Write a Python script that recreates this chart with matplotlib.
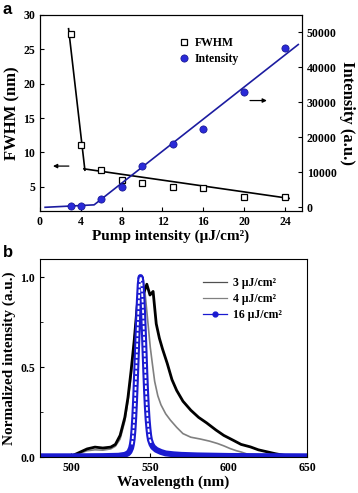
import numpy as np
import matplotlib
matplotlib.use('Agg')
import matplotlib.pyplot as plt
from matplotlib.lines import Line2D

plt.rcParams['font.family'] = 'serif'
plt.rcParams['font.serif'] = ['Liberation Serif', 'DejaVu Serif']
plt.rcParams['font.weight'] = 'bold'
plt.rcParams['axes.labelweight'] = 'bold'

# panel a: FWHM and integrated intensity vs pump
pump = [3, 4, 6, 8, 10, 13, 16, 20, 24]
fwhm = [27.3, 11.1, 7.5, 6.0, 5.5, 5.0, 4.8, 3.55, 3.55]
intensity = [400, 400, 2300, 5900, 11900, 18100, 22300, 32900, 45600]

# hand fitted segments
fwhm_fit1_x = [2.8, 4.4]
fwhm_fit1_y = [28.0, 7.4]
fwhm_fit2_x = [4.3, 24.4]
fwhm_fit2_y = [7.6, 3.3]
int_fit_x = [0.5, 5.3, 25.3]
int_fit_y = [0, 700, 46500]

# panel b: normalized spectra
wl_3 = [480, 495, 500, 505, 510, 515, 520, 525, 528, 531, 534, 536, 538, 540,
        542, 544, 546, 548, 550, 552, 554, 556, 558, 561, 564, 567, 571, 576,
        581, 586, 592, 597, 603, 608, 614, 619, 625, 630, 635, 640, 650]
sp_3 = [0.0, 0.0, 0.005, 0.025, 0.045, 0.055, 0.05, 0.055, 0.07, 0.12, 0.22,
        0.33, 0.48, 0.65, 0.85, 0.95, 0.91, 0.96, 0.90, 0.92, 0.74, 0.66, 0.60,
        0.52, 0.43, 0.37, 0.31, 0.26, 0.22, 0.19, 0.15, 0.12, 0.093, 0.07,
        0.056, 0.04, 0.028, 0.018, 0.01, 0.005, 0.0]

wl_4 = [480, 500, 505, 510, 515, 520, 525, 528, 531, 534, 536, 538, 540, 542,
        544, 545.5, 547, 549, 550.2, 551.5, 553, 555, 557, 560, 563, 567, 571,
        576, 582, 588, 593, 597, 601, 605, 608, 614, 620, 650]
sp_4 = [0.0, 0.005, 0.02, 0.035, 0.04, 0.038, 0.045, 0.06, 0.10, 0.20, 0.31,
        0.45, 0.65, 0.85, 0.97, 1.0, 0.90, 0.72, 0.61, 0.52, 0.42, 0.34, 0.29,
        0.24, 0.205, 0.165, 0.13, 0.11, 0.10, 0.088, 0.075, 0.062, 0.047,
        0.035, 0.028, 0.01, 0.003, 0.0]

wl_16 = [480, 500, 520, 530, 534, 536, 537, 538, 538.5, 539, 539.5, 540, 540.5,
         541, 541.5, 542, 542.5, 543, 543.5, 544, 544.5, 545, 545.5, 546,
         546.5, 547, 547.5, 548, 548.5, 549, 549.5, 550, 551, 552, 554, 557,
         560, 565, 570, 580, 600, 620, 650]
sp_16 = [0.004, 0.004, 0.005, 0.007, 0.012, 0.02, 0.03, 0.05, 0.07, 0.10, 0.15,
         0.22, 0.31, 0.42, 0.54, 0.66, 0.78, 0.88, 0.96, 1.0, 0.98, 0.92, 0.83,
         0.72, 0.60, 0.48, 0.37, 0.28, 0.21, 0.16, 0.12, 0.095, 0.07, 0.055,
         0.04, 0.028, 0.02, 0.015, 0.012, 0.009, 0.006, 0.005, 0.004]

blue = '#1a1ad0'
navy = '#1c1ca0'

fig = plt.figure(figsize=(3.58, 4.93), dpi=100)

# ---- panel a
ax1 = fig.add_axes([0.1117, 0.572, 0.732, 0.3976])
ax2 = ax1.twinx()
ax1.plot(fwhm_fit1_x, fwhm_fit1_y, color='black', lw=1.2)
ax1.plot(fwhm_fit2_x, fwhm_fit2_y, color='black', lw=1.2)
h1, = ax1.plot(pump, fwhm, 's', mfc='white', mec='black', ms=4.5, mew=0.9,
               label='FWHM')
ax2.plot(int_fit_x, int_fit_y, color=navy, lw=1.2)
h2, = ax2.plot(pump, intensity, 'o', color='#2a2ad8', mec='#12128a', ms=5.2,
               mew=0.5, label='Intensity')

ax1.set_xlim(0, 25.67)
ax1.set_ylim(1.46, 30)
ax2.set_ylim(-1057, 54940)
ax1.set_xticks([0, 4, 8, 12, 16, 20, 24])
ax1.set_yticks([5, 10, 15, 20, 25, 30])
ax2.set_yticks([0, 10000, 20000, 30000, 40000, 50000])
ax1.tick_params(direction='in', labelsize=8.5, length=3)
ax2.tick_params(direction='in', labelsize=8.5, length=3)
ax1.set_xlabel('Pump intensity (μJ/cm²)', fontsize=11, labelpad=1)
ax1.set_ylabel('FWHM (nm)', fontsize=12, labelpad=2)
ax2.set_ylabel('Intensity (a.u.)', fontsize=12, rotation=270, labelpad=13)

ax1.annotate('', xy=(1.0, 8.0), xytext=(3.1, 8.0),
             arrowprops=dict(arrowstyle='-|>', color='black', lw=0.9,
                             mutation_scale=6))
ax2.annotate('', xy=(22.5, 30500), xytext=(20.3, 30500),
             arrowprops=dict(arrowstyle='-|>', color='black', lw=0.9,
                             mutation_scale=6))
ax1.legend(handles=[h1, h2], loc='upper left', bbox_to_anchor=(0.49, 0.93),
           frameon=False, fontsize=8.5, handletextpad=0.3, borderpad=0.2,
           labelspacing=0.35, handlelength=1.2)

# ---- panel b
ax3 = fig.add_axes([0.1117, 0.073, 0.746, 0.4016])
ax3.plot(wl_4, sp_4, color='#808080', lw=1.2)
ax3.plot(wl_3, sp_3, color='black', lw=2.0)
ax3.plot(wl_16, sp_16, color=blue, lw=4.3, solid_capstyle='butt')
inner = np.ma.masked_less(np.array(sp_16), 0.06)
ax3.plot(wl_16, inner, color='white', lw=1.3, ls=(0, (2, 1)))

ax3.set_xlim(480, 650)
ax3.set_ylim(0, 1.1)
ax3.set_xticks([500, 550, 600, 650])
ax3.set_yticks([0.0, 0.5, 1.0])
ax3.set_yticks([0.25, 0.75], minor=True)
ax3.tick_params(direction='in', labelsize=8.5, length=3)
ax3.tick_params(which='minor', direction='in', length=2)
ax3.set_xlabel('Wavelength (nm)', fontsize=11, labelpad=1)
ax3.set_ylabel('Normalized intensity (a.u.)', fontsize=11, labelpad=3)

leg_handles = [
    Line2D([], [], color='#505050', lw=0.9),
    Line2D([], [], color='#808080', lw=0.9),
    Line2D([], [], color=blue, lw=0.9, marker='o', ms=3.5, mfc=blue),
]
ax3.legend(leg_handles, ['3 μJ/cm²', '4 μJ/cm²', '16 μJ/cm²'],
           loc='upper left', bbox_to_anchor=(0.58, 0.95), frameon=False,
           fontsize=8.5, handlelength=2.0, handletextpad=0.5,
           labelspacing=0.35, borderpad=0.2)

fig.text(0.008, 0.995, 'a', family='Liberation Sans', weight='bold',
         fontsize=12, va='top')
fig.text(0.008, 0.503, 'b', family='Liberation Sans', weight='bold',
         fontsize=12, va='top')

fig.savefig('out.png', dpi=100)
